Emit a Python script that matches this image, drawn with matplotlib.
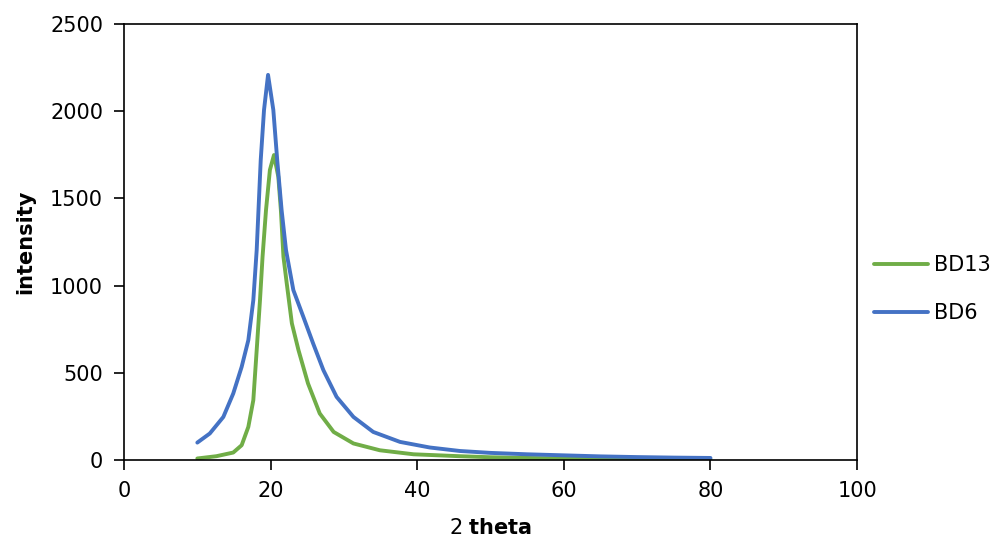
import matplotlib.pyplot as plt

# values
bd13_x = [10, 12.6, 14.9, 16.05, 16.96, 17.64, 18.1, 18.55, 18.9, 19.37, 19.9, 20.46,
          21.05, 21.4, 21.75, 22.2, 22.9, 23.8, 25.1, 26.7, 28.6, 31.3, 34.9, 39.5,
          45.8, 50, 55, 60, 65, 70, 75, 80]
bd13_y = [10, 23, 44, 86, 191, 344, 631, 917, 1166, 1433, 1663, 1749,
          1624, 1433, 1166, 1013, 784, 631, 440, 268, 162, 96, 57, 34,
          23, 17, 13, 10, 8, 7, 6, 5]

bd6_x = [10, 11.7, 13.55, 14.9, 16.05, 16.96, 17.64, 18.1, 18.65, 19.1, 19.65, 20.37,
         20.9, 21.5, 22.1, 23.1, 24.46, 25.8, 27.2, 29.0, 31.3, 34.0, 37.65, 41.7,
         45.8, 50, 55, 60, 65, 70, 75, 80]
bd6_y = [101, 153, 248, 382, 535, 688, 917, 1204, 1720, 2007, 2208, 2007,
         1720, 1433, 1204, 975, 822, 669, 516, 363, 248, 162, 105, 73,
         53, 42, 34, 28, 22, 18, 15, 13]

plt.rcParams['font.family'] = 'DejaVu Sans'

fig = plt.figure(figsize=(9.92, 5.44), dpi=100)
ax = fig.add_axes([0.125, 0.154, 0.739, 0.802])

ax.plot(bd13_x, bd13_y, color='#70AD47', lw=2.8, label='BD13',
        solid_capstyle='round', solid_joinstyle='round')
ax.plot(bd6_x, bd6_y, color='#4472C4', lw=2.8, label='BD6',
        solid_capstyle='round', solid_joinstyle='round')

ax.set_xlim(0, 100)
ax.set_ylim(0, 2500)
ax.set_xticks(range(0, 101, 20))
ax.set_yticks(range(0, 2501, 500))
ax.tick_params(labelsize=15, length=7, width=1.2, direction='out', pad=8)
for s in ax.spines.values():
    s.set_linewidth(1.2)

ax.set_xlabel(r'2 $\mathbf{theta}$', fontsize=15, labelpad=12)
ax.set_ylabel('intensity', fontsize=15, fontweight='bold', labelpad=11)

ax.legend(loc='center left', bbox_to_anchor=(1.023, 0.392), frameon=False,
          fontsize=15, handlelength=2.6, handletextpad=0.3, labelspacing=1.35,
          borderaxespad=0, borderpad=0)

fig.savefig('out.png', dpi=100)
